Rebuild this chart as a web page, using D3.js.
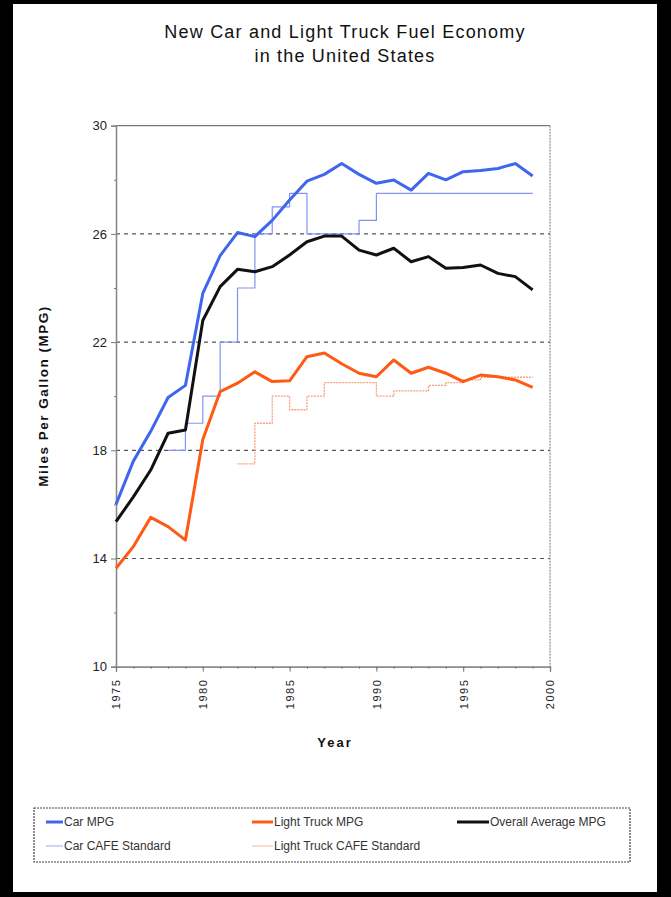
<!DOCTYPE html>
<html><head><meta charset="utf-8">
<script src="https://cdn.jsdelivr.net/npm/d3@7/dist/d3.min.js"></script>
<style>html,body{margin:0;padding:0;background:#000;}svg{display:block;}</style>
</head><body>
<script>
const years = [1975,1976,1977,1978,1979,1980,1981,1982,1983,1984,1985,1986,1987,1988,1989,1990,1991,1992,1993,1994,1995,1996,1997,1998,1999];
const carMPG = [16.0,17.6,18.7,19.95,20.4,23.8,25.2,26.05,25.9,26.5,27.25,27.95,28.2,28.6,28.2,27.87,27.99,27.62,28.24,28.0,28.3,28.34,28.42,28.6,28.14];
const truckMPG = [13.64,14.44,15.52,15.18,14.68,18.4,20.17,20.48,20.9,20.54,20.57,21.46,21.6,21.2,20.85,20.72,21.34,20.85,21.07,20.85,20.54,20.78,20.72,20.6,20.33];
const overallMPG = [15.36,16.28,17.27,18.63,18.75,22.8,24.05,24.69,24.6,24.79,25.22,25.71,25.92,25.92,25.4,25.22,25.47,24.97,25.16,24.73,24.76,24.85,24.54,24.42,23.93];
const carCafeYears = [1978,1979,1980,1981,1982,1983,1984,1985,1986,1987,1988,1989,1990,1991,1992,1993,1994,1995,1996,1997,1998,1999];
const carCafe = [18,19,20,22,24,26,27,27.5,26,26,26,26.5,27.5,27.5,27.5,27.5,27.5,27.5,27.5,27.5,27.5,27.5];
const truckCafeYears = [1982,1983,1984,1985,1986,1987,1988,1989,1990,1991,1992,1993,1994,1995,1996,1997,1998,1999];
const truckCafe = [17.5,19.0,20.0,19.5,20.0,20.5,20.5,20.5,20.0,20.2,20.2,20.4,20.5,20.6,20.7,20.7,20.7,20.7];
const yTicks = [10,14,18,22,26,30];
const xTicks = [1975,1980,1985,1990,1995,2000];
const titleLines = ["New Car and Light Truck Fuel Economy","in the United States"];
const seriesNames = ["Car MPG","Light Truck MPG","Overall Average MPG","Car CAFE Standard","Light Truck CAFE Standard"];

const W = 671, H = 897;
const FONT = "'Liberation Sans', Arial, sans-serif";
const svg = d3.select("body").append("svg").attr("width", W).attr("height", H)
  .style("font-family", FONT);
svg.append("rect").attr("width", W).attr("height", H).attr("fill", "#000");
svg.append("rect").attr("x", 13).attr("y", 4).attr("width", 644).attr("height", 888).attr("fill", "#fff");

const x = d3.scaleLinear().domain([1975, 2000]).range([116, 550]);
const y = d3.scaleLinear().domain([10, 30]).range([666.7, 125.7]);

// title
svg.append("g").selectAll("text").data(titleLines).join("text")
  .attr("x", 345).attr("y", (d,i) => 38 + i*24).attr("text-anchor", "middle")
  .attr("font-size", 18).attr("fill", "#111").attr("letter-spacing", 1.2).text(d => d);

// gridlines
svg.append("g").selectAll("line").data(yTicks.filter(v => v > 10 && v < 30)).join("line")
  .attr("x1", x(1975)).attr("x2", x(2000)).attr("y1", d => y(d)).attr("y2", d => y(d))
  .attr("stroke", "#555").attr("stroke-width", 1.2).attr("stroke-dasharray", "4,4");
// top border & right border
svg.append("line").attr("x1", x(1975)).attr("x2", x(2000)).attr("y1", y(30)).attr("y2", y(30))
  .attr("stroke", "#777").attr("stroke-width", 1.3);
svg.append("line").attr("x1", x(2000)).attr("x2", x(2000)).attr("y1", y(30)).attr("y2", y(10))
  .attr("stroke", "#777").attr("stroke-width", 1).attr("stroke-dasharray", "2,1");

// axes
const yAxis = svg.append("g").attr("transform", `translate(${x(1975)},0)`)
  .call(d3.axisLeft(y).tickValues(yTicks).tickSize(5).tickPadding(4).tickFormat(d3.format("d")));
const yMinor = svg.append("g").attr("transform", `translate(${x(1975)},0)`)
  .call(d3.axisLeft(y).tickValues([12,16,20,24,28]).tickSize(2).tickFormat(""));
const xAxis = svg.append("g").attr("transform", `translate(0,${y(10)})`)
  .call(d3.axisBottom(x).tickValues(xTicks).tickSize(5).tickPadding(4).tickFormat(d3.format("d")));
const xMinor = svg.append("g").attr("transform", `translate(0,${y(10)})`)
  .call(d3.axisBottom(x).tickValues(d3.range(1975, 2001)).tickSize(2).tickFormat(""));
[yAxis, yMinor, xAxis, xMinor].forEach(g => {
  g.select(".domain").attr("stroke", "#888").attr("stroke-width", 1.3);
  g.selectAll(".tick line").attr("stroke", "#777");
});
yAxis.selectAll("text").attr("font-size", 13).attr("fill", "#222").attr("font-family", FONT);
xAxis.selectAll("text").attr("font-size", 11).attr("fill", "#222").attr("font-family", FONT)
  .attr("letter-spacing", 1.5)
  .attr("transform", "rotate(-90)").attr("text-anchor", "end").attr("dy", "0.35em").attr("x", -12).attr("y", 0);

// axis titles
svg.append("text").attr("transform", "translate(48,396) rotate(-90)").attr("text-anchor", "middle")
  .attr("font-size", 13.5).attr("font-weight", "bold").attr("letter-spacing", 1.5).attr("fill", "#111")
  .text("Miles Per Gallon (MPG)");
svg.append("text").attr("x", 335).attr("y", 747).attr("text-anchor", "middle")
  .attr("font-size", 13).attr("font-weight", "bold").attr("letter-spacing", 2).attr("fill", "#111").text("Year");

// series
const mkLine = (xs, ys, curve) => d3.line().x((d,i) => x(xs[i])).y(d => y(d)).curve(curve)(ys);
const series = [
  {name: seriesNames[3], xs: carCafeYears, ys: carCafe, color: "#8492f6", w: 1.2, dash: null, curve: d3.curveStepAfter},
  {name: seriesNames[4], xs: truckCafeYears, ys: truckCafe, color: "#f7a07a", w: 1.3, dash: "2,1", curve: d3.curveStepAfter},
  {name: seriesNames[1], xs: years, ys: truckMPG, color: "#ff5a14", w: 3, dash: null, curve: d3.curveLinear},
  {name: seriesNames[2], xs: years, ys: overallMPG, color: "#111", w: 3, dash: null, curve: d3.curveLinear},
  {name: seriesNames[0], xs: years, ys: carMPG, color: "#3f66ec", w: 3, dash: null, curve: d3.curveLinear}
];
svg.append("g").selectAll("path").data(series).join("path")
  .attr("d", s => mkLine(s.xs, s.ys, s.curve))
  .attr("fill", "none").attr("stroke", s => s.color).attr("stroke-width", s => s.w)
  .attr("stroke-dasharray", s => s.dash)
  .attr("stroke-linejoin", "round");

// legend
svg.append("rect").attr("x", 34).attr("y", 808).attr("width", 596).attr("height", 54)
  .attr("fill", "none").attr("stroke", "#444").attr("stroke-width", 1.2).attr("stroke-dasharray", "2,1");
const legendItems = [
  {name: seriesNames[0], color: "#3f66ec", w: 3, lx: 46, sw: 17, ly: 822},
  {name: seriesNames[1], color: "#ff5a14", w: 3, lx: 252, sw: 21, ly: 822},
  {name: seriesNames[2], color: "#111", w: 3, lx: 457, sw: 32, ly: 822},
  {name: seriesNames[3], color: "#a0a9f8", w: 1, lx: 46, sw: 17, ly: 846},
  {name: seriesNames[4], color: "#f9b69a", w: 1, lx: 252, sw: 21, ly: 846}
];
const lg = svg.append("g").selectAll("g").data(legendItems).join("g")
  .attr("transform", d => `translate(${d.lx},${d.ly})`);
lg.append("line").attr("x1", 0).attr("x2", d => d.sw).attr("stroke", d => d.color).attr("stroke-width", d => d.w);
lg.append("text").attr("x", d => d.sw + 1).attr("dy", "0.35em").attr("font-size", 12).attr("fill", "#333").text(d => d.name);
</script>
</body></html>
